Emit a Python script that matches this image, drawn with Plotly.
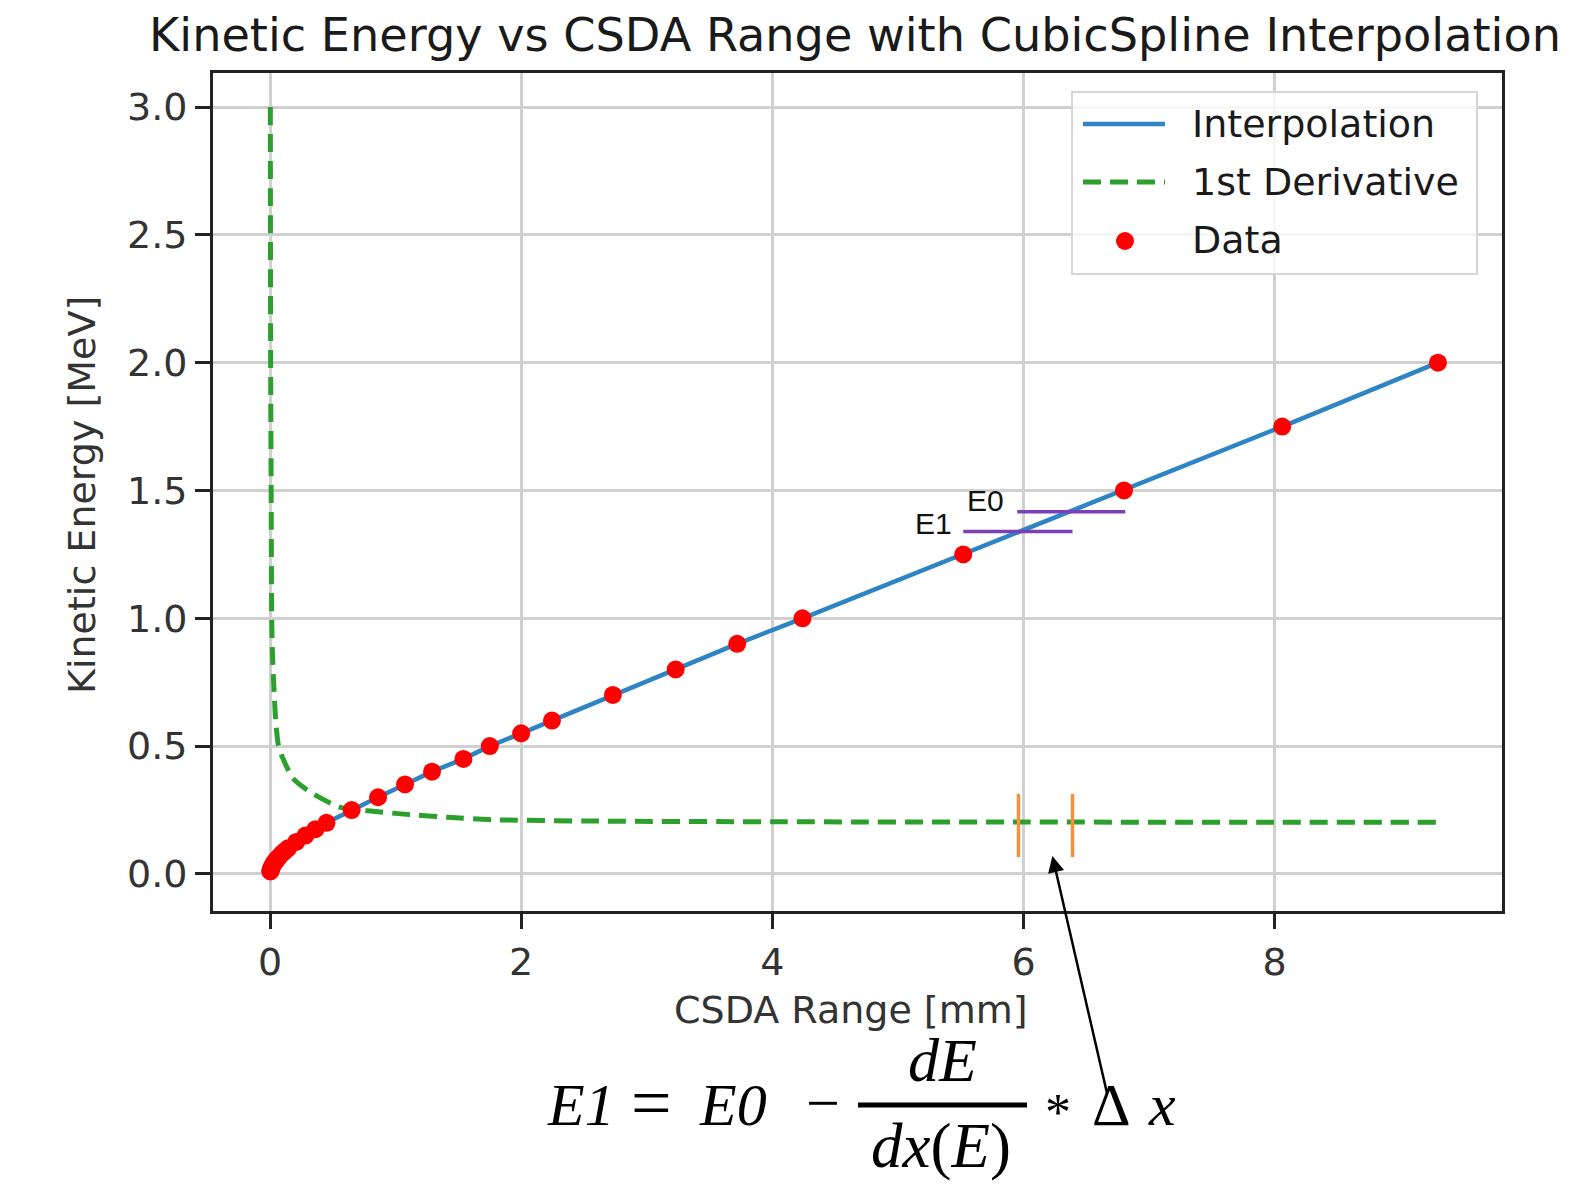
import plotly.graph_objects as go

# ---------------- data ----------------
energy_mev = [0.01, 0.0125, 0.015, 0.0175, 0.02, 0.025, 0.03, 0.035, 0.04, 0.045, 0.05,
              0.055, 0.06, 0.07, 0.08, 0.09, 0.1, 0.125, 0.15, 0.175, 0.2, 0.25, 0.3,
              0.35, 0.4, 0.45, 0.5, 0.55, 0.6, 0.7, 0.8, 0.9, 1.0, 1.25, 1.5, 1.75, 2.0]
range_mm = [0.0025, 0.0037, 0.0051, 0.0068, 0.0086, 0.0127, 0.0176, 0.023, 0.029, 0.036,
            0.043, 0.051, 0.059, 0.077, 0.097, 0.119, 0.143, 0.209, 0.282, 0.362, 0.45,
            0.65, 0.86, 1.075, 1.29, 1.54, 1.75, 2.0, 2.245, 2.73, 3.23, 3.72, 4.24,
            5.52, 6.80, 8.06, 9.30]

deriv_x = [0.0025, 0.005, 0.009, 0.0135, 0.02, 0.03, 0.045, 0.064, 0.08, 0.1, 0.18, 0.32,
           0.56, 0.82, 1.11, 1.41, 1.78, 2.5, 4.0, 6.0, 8.0, 9.30]
deriv_y = [3.0, 2.0, 1.5, 1.0, 0.85, 0.74, 0.6, 0.51, 0.48, 0.455, 0.375, 0.32,
           0.26, 0.245, 0.232, 0.222, 0.212, 0.207, 0.204, 0.203, 0.202, 0.202]

x_ticks = [0, 2, 4, 6, 8]
y_ticks = [0.0, 0.5, 1.0, 1.5, 2.0, 2.5, 3.0]

# annotation marks
e0_level, e0_x = 1.417, [5.95, 6.81]
e1_level, e1_x = 1.339, [5.52, 6.39]
dx_marks = [5.96, 6.39]
dx_mark_y = [0.066, 0.313]
arrow_head = (6.23, 0.07)

# ---------------- layout helpers (page pixel coordinates) ----------------
PAGE_W, PAGE_H = 1573, 1185
OFF = 8                      # default body margin of the html page
W, H = PAGE_W - OFF, PAGE_H - OFF
L, R, T, B = 213, 1502, 73, 911   # plot area in page pixels


def px(x):
    return (x - L) / (R - L)


def py(y):
    return (B - y) / (B - T)


TXT = '#1a1a1a'
SANS = 'DejaVu Sans'
SERIF = 'Liberation Serif'
BLUE = '#2f84c4'
GREEN = '#2ca02c'

fig = go.Figure()

fig.add_trace(go.Scatter(x=range_mm, y=energy_mev, mode='lines',
                         line=dict(color=BLUE, width=4.5), name='Interpolation',
                         showlegend=False))
fig.add_trace(go.Scatter(x=deriv_x, y=deriv_y, mode='lines', line_shape='spline',
                         line=dict(color=GREEN, width=5, dash='18px,9px', smoothing=0.6),
                         name='1st Derivative', showlegend=False))
fig.add_trace(go.Scatter(x=range_mm, y=energy_mev, mode='markers',
                         marker=dict(color='#ff0000', size=18, line=dict(width=0)),
                         name='Data', showlegend=False))

shapes = []
shapes.append(dict(type='line', xref='x', yref='y', x0=e0_x[0], x1=e0_x[1], y0=e0_level,
                   y1=e0_level, line=dict(color='#7b3fb8', width=3.5)))
shapes.append(dict(type='line', xref='x', yref='y', x0=e1_x[0], x1=e1_x[1], y0=e1_level,
                   y1=e1_level, line=dict(color='#7b3fb8', width=3.5)))
for xv in dx_marks:
    shapes.append(dict(type='line', xref='x', yref='y', x0=xv, x1=xv, y0=dx_mark_y[0],
                       y1=dx_mark_y[1], line=dict(color='#f5903f', width=3.5)))

# manual legend
shapes.append(dict(type='rect', xref='paper', yref='paper', x0=px(1072), x1=px(1477),
                   y0=py(274), y1=py(92), fillcolor='rgba(255,255,255,0.8)',
                   line=dict(color='#d6d6d6', width=2)))
shapes.append(dict(type='line', xref='paper', yref='paper', x0=px(1083), x1=px(1165),
                   y0=py(124), y1=py(124), line=dict(color=BLUE, width=4.5)))
shapes.append(dict(type='line', xref='paper', yref='paper', x0=px(1083), x1=px(1165),
                   y0=py(182), y1=py(182), line=dict(color=GREEN, width=5, dash='18px,9px')))
shapes.append(dict(type='circle', xref='paper', yref='paper', x0=px(1116), x1=px(1134),
                   y0=py(250), y1=py(232), fillcolor='#ff0000', line=dict(width=0)))
# fraction bar
shapes.append(dict(type='line', xref='paper', yref='paper', x0=px(858), x1=px(1027),
                   y0=py(1105), y1=py(1105), line=dict(color='black', width=5)))

annotations = []
for txt, yy in [('Interpolation', 124), ('1st Derivative', 182), ('Data', 240)]:
    annotations.append(dict(text=txt, xref='paper', yref='paper', x=px(1190), y=py(yy),
                            xanchor='left', yanchor='middle', showarrow=False,
                            font=dict(family=SANS, size=38, color=TXT)))
annotations.append(dict(text='CSDA Range [mm]', xref='paper', yref='paper', x=px(851),
                        y=py(1010), xanchor='center', yanchor='middle', showarrow=False,
                        font=dict(family=SANS, size=38, color='#333333')))
annotations.append(dict(text='Kinetic Energy [MeV]', xref='paper', yref='paper', x=px(82),
                        y=py(495), xanchor='center', yanchor='middle', showarrow=False,
                        textangle=-90, font=dict(family=SANS, size=38, color='#333333')))
annotations.append(dict(text='E0', xref='paper', yref='paper', x=px(985), y=py(501),
                        xanchor='center', yanchor='middle', showarrow=False,
                        font=dict(family='Liberation Sans', size=30, color='#111111')))
annotations.append(dict(text='E1', xref='paper', yref='paper', x=px(933), y=py(523),
                        xanchor='center', yanchor='middle', showarrow=False,
                        font=dict(family='Liberation Sans', size=30, color='#111111')))
annotations.append(dict(text='', x=arrow_head[0], y=arrow_head[1], xref='x', yref='y',
                        ax=55, ay=239, showarrow=True, arrowhead=2, arrowsize=1.3,
                        arrowwidth=2.5, arrowcolor='black'))
# formula
for txt, xx, yy, anc, sz in [('<i>E1</i>', 545, 1105, 'left', 60), ('=', 651, 1103, 'center', 72),
                             ('<i>E0</i>', 697, 1105, 'left', 60), ('\u2212', 823, 1103, 'center', 60),
                             ('<i>dE</i>', 942, 1060, 'center', 62),
                             ('<i>dx</i>(<i>E</i>)', 941, 1146, 'center', 63),
                             ('*', 1058, 1112, 'center', 52), ('\u0394', 1111, 1105, 'center', 60),
                             ('<i>x</i>', 1162, 1105, 'center', 60)]:
    annotations.append(dict(text=txt, xref='paper', yref='paper', x=px(xx), y=py(yy),
                            xanchor=anc, yanchor='middle', showarrow=False,
                            font=dict(family=SERIF, size=sz, color='black')))

axis_common = dict(showgrid=True, gridcolor='#d0d0d0', gridwidth=2.5, zeroline=False,
                   showline=True, linecolor='#222222', linewidth=3, mirror=True,
                   ticks='outside', ticklen=15, tickwidth=2.5, tickcolor='#222222',
                   tickfont=dict(family=SANS, size=38, color='#333333'))

fig.update_layout(
    width=W, height=H,
    margin=dict(l=L - OFF, r=PAGE_W - R, t=T - OFF, b=PAGE_H - B, autoexpand=False),
    paper_bgcolor='white', plot_bgcolor='white',
    title=dict(text='Kinetic Energy vs CSDA Range with CubicSpline Interpolation',
               x=px(855), xref='paper', xanchor='center', y=1 - (35 - OFF) / H,
               yref='container', yanchor='middle',
               font=dict(family=SANS, size=46.2, color=TXT)),
    xaxis=dict(range=[-0.454, 9.81], tickvals=x_ticks, ticktext=[str(v) for v in x_ticks],
               **axis_common),
    yaxis=dict(range=[-0.145, 3.133], tickvals=y_ticks, ticktext=[f'{v:.1f}' for v in y_ticks],
               **axis_common),
    shapes=shapes, annotations=annotations, showlegend=False,
)

fig.write_html('out.html')
